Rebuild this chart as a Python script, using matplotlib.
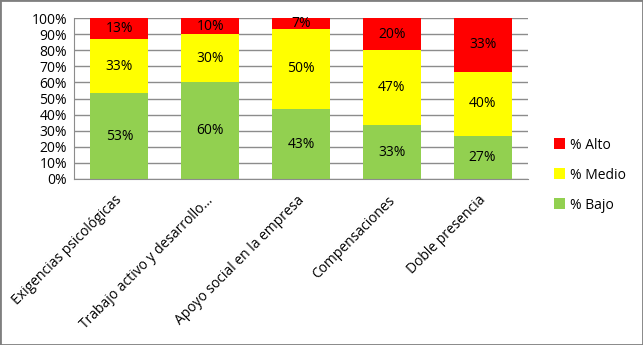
import numpy as np
import matplotlib
matplotlib.use("Agg")
import matplotlib.pyplot as plt
import matplotlib.transforms as mtransforms
from matplotlib.patches import Rectangle

categories = ["Exigencias psicológicas", "Trabajo activo y desarrollo…",
              "Apoyo social en la empresa", "Compensaciones", "Doble presencia"]
bajo = [53.33, 60.0, 43.33, 33.33, 26.67]
medio = [33.33, 30.0, 50.0, 46.67, 40.0]
alto = [13.33, 10.0, 6.67, 20.0, 33.33]

plt.rcParams['font.family'] = ['Open Sans', 'DejaVu Sans']

fig = plt.figure(figsize=(6.43, 3.45), dpi=100)
ax = fig.add_axes([74/643, 1-179/345, (528-74)/643, (179-18)/345])

x = np.arange(len(categories))
w = 0.64
b1 = ax.bar(x, bajo, w, color="#92D050", label="% Bajo", zorder=2)
b2 = ax.bar(x, medio, w, bottom=bajo, color="#FFFF00", label="% Medio", zorder=2)
bot3 = np.array(bajo) + np.array(medio)
b3 = ax.bar(x, alto, w, bottom=bot3, color="#FF0000", label="% Alto", zorder=2)

for bars, vals in [(b1, bajo), (b2, medio), (b3, alto)]:
    ax.bar_label(bars, labels=[f"{v:.0f}%" for v in vals], label_type='center',
                 fontsize=10, color="black")

ax.set_xlim(-0.5, len(categories) - 0.5)
ax.set_ylim(0, 100)
ax.set_yticks(np.arange(0, 101, 10))
ax.set_yticklabels([f"{v}%" for v in range(0, 101, 10)], fontsize=10)
ax.yaxis.grid(True, color="#8c8c8c", linewidth=1, zorder=0)
ax.tick_params(axis='y', length=0, pad=5)
ax.tick_params(axis='x', length=0, pad=10)
ax.set_xticks(x)
ax.set_xticklabels(categories, rotation=45, ha='right', fontsize=10)
# nudge rotated labels a bit to the right
offset = mtransforms.ScaledTranslation(6/100, 0, fig.dpi_scale_trans)
for lab in ax.get_xticklabels():
    lab.set_transform(lab.get_transform() + offset)
for s in ['top', 'right']:
    ax.spines[s].set_visible(False)
ax.spines['left'].set_color("#8c8c8c")
ax.spines['bottom'].set_color("#8c8c8c")

h, l = ax.get_legend_handles_labels()
fig.legend(h[::-1], l[::-1], loc='upper left', bbox_to_anchor=(541/643, 1-125/345),
           frameon=False, fontsize=10, handlelength=0.8, handleheight=0.8,
           handletextpad=0.4, labelspacing=1.08)

fig.patches.append(Rectangle((0, 0), 1, 1, transform=fig.transFigure, fill=False,
                             edgecolor="#7f7f7f", linewidth=2))

plt.savefig("out.png", dpi=100)
plt.close()
